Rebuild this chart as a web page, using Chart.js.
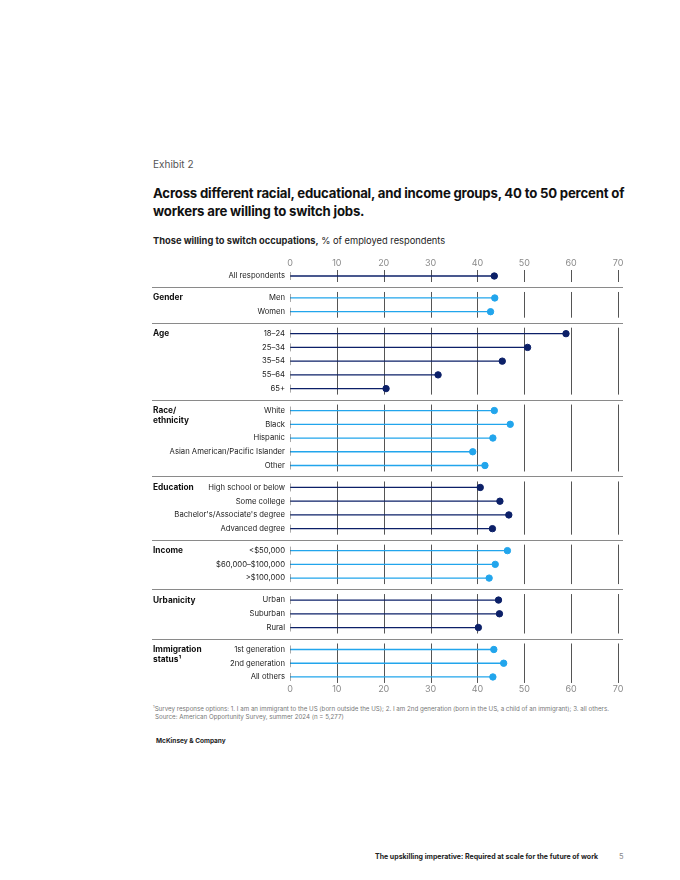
<!DOCTYPE html>
<html>
<head>
<meta charset="utf-8">
<script src="https://cdn.jsdelivr.net/npm/chart.js@4.4.1/dist/chart.umd.min.js"></script>
<style>
  body { margin: 0; background: #fff; font-family: Inter, "Noto Sans", sans-serif; }
  #page { position: relative; width: 680px; height: 880px; overflow: hidden; }
  .t { position: absolute; white-space: nowrap; }
  #chart { position: absolute; left: 0; top: 250px; }
</style>
</head>
<body>
<div id="page">
  <div class="t" style="left:153px; top:158px; font-size:10px; color:#555;">Exhibit 2</div>
  <div class="t" style="left:153px; top:184px; font-size:13.2px; letter-spacing:-0.2px; line-height:18px; font-weight:700; color:#111;">Across different racial, educational, and income groups, 40 to 50 percent of<br>workers are willing to switch jobs.</div>
  <div class="t" style="left:153px; top:235px; font-size:9.3px; color:#222;"><b>Those willing to switch occupations,</b> % of employed respondents</div>
  <canvas id="chart" width="680" height="453"></canvas>
  <div class="t" style="left:153px; top:704px; font-size:6.2px; color:#777;"><sup style="font-size:4px">1</sup>Survey response options: 1. I am an immigrant to the US (born outside the US); 2. I am 2nd generation (born in the US, a child of an immigrant); 3. all others.</div>
  <div class="t" style="left:155px; top:713px; font-size:6.2px; color:#777;">Source: American Opportunity Survey, summer 2024 (n = 5,277)</div>
  <div class="t" style="left:156px; top:737px; font-size:6.5px; font-weight:700; color:#222;">McKinsey &amp; Company</div>
  <div class="t" style="left:375px; top:852px; font-size:7px; font-weight:700; color:#222;">The upskilling imperative: Required at scale for the future of work</div>
  <div class="t" style="left:619px; top:852px; font-size:7.5px; color:#888;">5</div>
</div>
<script>
const allLabels = ["All respondents"]
const allValues = [43.6]
const genderLabels = ["Men", "Women"]
const genderValues = [43.7, 42.8]
const ageLabels = ["18–24", "25–34", "35–54", "55–64", "65+"]
const ageValues = [58.9, 50.7, 45.3, 31.6, 20.5]
const raceLabels = ["White", "Black", "Hispanic", "Asian American/Pacific Islander", "Other"]
const raceValues = [43.6, 47.0, 43.3, 39.0, 41.6]
const eduLabels = ["High school or below", "Some college", "Bachelor's/Associate's degree", "Advanced degree"]
const eduValues = [40.6, 44.8, 46.7, 43.2]
const incomeLabels = ["<$50,000", "$60,000–$100,000", ">$100,000"]
const incomeValues = [46.4, 43.8, 42.5]
const urbanLabels = ["Urban", "Suburban", "Rural"]
const urbanValues = [44.5, 44.7, 40.2]
const immLabels = ["1st generation", "2nd generation", "All others"]
const immValues = [43.5, 45.6, 43.3]
const groupNames = ["", "Gender", "Age", "Race/\nethnicity", "Education", "Income", "Urbanicity", "Immigration\nstatus¹"]
const xTicks = [0, 10, 20, 30, 40, 50, 60, 70]

const dark = "#0c2068"
const light = "#22a5ec"
const groups = [
    { name: groupNames[0], labels: allLabels, values: allValues, color: dark },
    { name: groupNames[1], labels: genderLabels, values: genderValues, color: light },
    { name: groupNames[2], labels: ageLabels, values: ageValues, color: dark },
    { name: groupNames[3], labels: raceLabels, values: raceValues, color: light },
    { name: groupNames[4], labels: eduLabels, values: eduValues, color: dark },
    { name: groupNames[5], labels: incomeLabels, values: incomeValues, color: light },
    { name: groupNames[6], labels: urbanLabels, values: urbanValues, color: dark },
    { name: groupNames[7], labels: immLabels, values: immValues, color: light }
]

// row positions: one unit per row, extra gap between groups
const gap = 0.6
let rowPos = []
let rowLabels = []
let row = 0
groups.forEach((g, gi) => {
    g.pos = []
    g.labels.forEach(l => {
        const p = row + gi * gap
        g.pos.push(p)
        rowPos.push(p)
        rowLabels.push(l)
        row++
    })
})

const isDot = ctx => ctx.raw && ctx.raw.x > 0

const datasets = groups.map(g => {
    let data = []
    g.values.forEach((v, i) => {
        data.push({ x: 0, y: g.pos[i] })
        data.push({ x: v, y: g.pos[i] })
        data.push({ x: null, y: null })
    })
    return {
        data: data,
        showLine: true,
        spanGaps: false,
        borderColor: g.color,
        borderWidth: 1.3,
        pointStyle: ctx => isDot(ctx) ? "circle" : "line",
        pointRotation: 90,
        pointRadius: ctx => isDot(ctx) ? 3.2 : 4,
        pointBackgroundColor: g.color,
        pointBorderColor: ctx => isDot(ctx) ? g.color : "#555",
        pointBorderWidth: 1,
        pointHoverRadius: 0
    }
})

const decor = {
    id: "decor",
    beforeDatasetsDraw(chart) {
        const ctx = chart.ctx
        const x = chart.scales.x
        const y = chart.scales.y
        ctx.save()
        // vertical gridlines per group
        ctx.strokeStyle = "#555"
        ctx.lineWidth = 1
        groups.forEach(g => {
            const top = y.getPixelForValue(g.pos[0]) - 6
            const bot = y.getPixelForValue(g.pos[g.pos.length - 1]) + 6
            xTicks.slice(1).forEach(t => {
                const px = Math.round(x.getPixelForValue(t)) + 0.5
                ctx.beginPath()
                ctx.moveTo(px, top)
                ctx.lineTo(px, bot)
                ctx.stroke()
            })
        })
        // separators between groups
        ctx.strokeStyle = "#8a8a8a"
        for (let i = 0; i < groups.length - 1; i++) {
            const a = groups[i].pos[groups[i].pos.length - 1]
            const b = groups[i + 1].pos[0]
            const py = Math.round(y.getPixelForValue((a + b) / 2)) + 0.5
            ctx.beginPath()
            ctx.moveTo(152, py)
            ctx.lineTo(x.getPixelForValue(70) + 5, py)
            ctx.stroke()
        }
        // group names
        ctx.fillStyle = "#111"
        ctx.font = "bold 8.3px Inter"
        ctx.textBaseline = "middle"
        ctx.textAlign = "left"
        groups.forEach(g => {
            if (!g.name) return
            const py = y.getPixelForValue(g.pos[0])
            g.name.split("\n").forEach((line, li) => {
                ctx.fillText(line, 153, py + li * 10)
            })
        })
        ctx.restore()
    }
}

const xAxis = (pos) => ({
    type: "linear",
    position: pos,
    min: 0,
    max: 70,
    grid: { display: false, drawTicks: false },
    border: { display: false },
    afterBuildTicks: ax => { ax.ticks = xTicks.map(v => ({ value: v })) },
    ticks: { color: "#8a8a8a", font: { family: "Inter", size: 9 }, padding: 1 },
    afterFit: ax => { ax.height = 20 }
})

new Chart(document.querySelector("#chart"), {
    type: "scatter",
    data: { datasets: datasets },
    options: {
        responsive: false,
        animation: false,
        layout: { padding: { left: 0, right: 62, top: 0, bottom: 0 } },
        plugins: { legend: { display: false }, tooltip: { enabled: false } },
        scales: {
            x: xAxis("bottom"),
            x2: xAxis("top"),
            y: {
                type: "linear",
                reverse: true,
                min: -0.437,
                max: 29.64,
                grid: { display: false, drawTicks: false },
                border: { display: false },
                afterBuildTicks: ax => { ax.ticks = rowPos.map(v => ({ value: v })) },
                ticks: {
                    autoSkip: false,
                    padding: 5,
                    color: "#222",
                    font: { family: "Inter", size: 7.7 },
                    callback: (v, i) => rowLabels[i]
                },
                afterFit: ax => { ax.width = 290 }
            }
        }
    },
    plugins: [decor]
})
</script>
</body>
</html>
